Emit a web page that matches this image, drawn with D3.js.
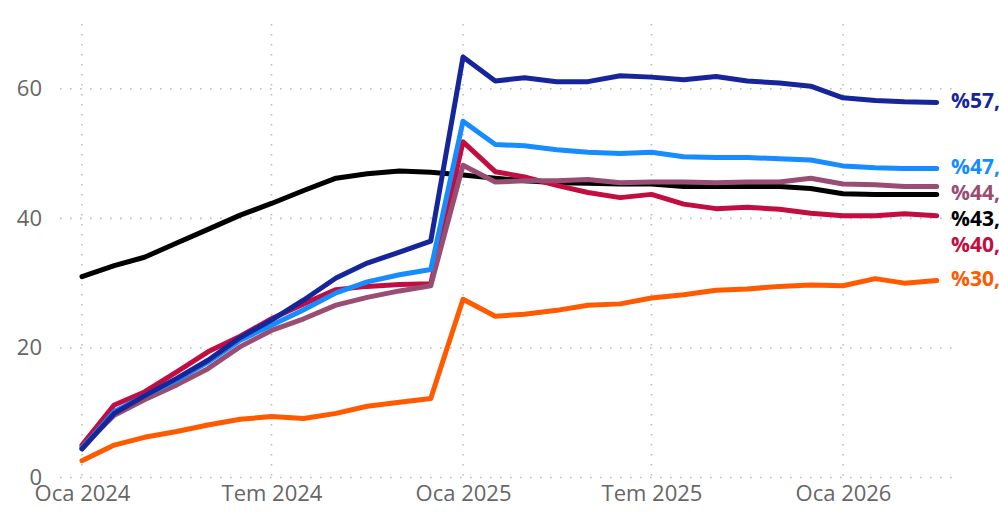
<!DOCTYPE html>
<html>
<head>
<meta charset="utf-8">
<script src="https://cdn.jsdelivr.net/npm/d3@7"></script>
<style>
  html, body { margin: 0; padding: 0; background: #fff; overflow: hidden; }
  svg { display: block; }
</style>
</head>
<body>
<svg id="chart" width="999" height="513"></svg>
<script>
// Monthly observations, January 2024 through April 2026
const months = d3.timeMonth.range(new Date(2024, 0, 1), new Date(2026, 4, 1));

const navyValues = [4.4, 9.9, 12.6, 15.3, 18.1, 21.6, 24.3, 27.4, 30.8, 33.1, 34.8, 36.5,
  64.9, 61.2, 61.7, 61.1, 61.1, 62.0, 61.8, 61.4, 61.9, 61.2, 60.9, 60.4, 58.6, 58.2, 58.0, 57.9];
const lightBlueValues = [4.5, 10.2, 12.6, 15.0, 17.8, 21.2, 23.5, 25.9, 28.5, 30.2, 31.3, 32.1,
  55.0, 51.4, 51.2, 50.6, 50.2, 50.0, 50.2, 49.5, 49.4, 49.4, 49.2, 49.0, 48.1, 47.8, 47.7, 47.7];
const mauveValues = [4.7, 9.6, 12.0, 14.3, 16.8, 20.2, 22.7, 24.5, 26.6, 27.8, 28.8, 29.6,
  48.2, 45.6, 45.8, 45.8, 46.0, 45.5, 45.6, 45.6, 45.5, 45.6, 45.6, 46.2, 45.3, 45.2, 44.9, 44.9];
const blackValues = [31.0, 32.7, 34.0, 36.2, 38.3, 40.5, 42.3, 44.3, 46.2, 46.9, 47.3, 47.1,
  46.7, 46.2, 45.8, 45.5, 45.4, 45.3, 45.3, 44.9, 44.9, 44.9, 44.9, 44.6, 43.8, 43.7, 43.7, 43.7];
const crimsonValues = [5.0, 11.2, 13.2, 16.3, 19.4, 21.8, 24.5, 26.8, 29.0, 29.5, 29.8, 29.9,
  51.8, 47.2, 46.4, 45.1, 44.0, 43.2, 43.7, 42.2, 41.5, 41.7, 41.4, 40.8, 40.4, 40.4, 40.7, 40.4];
const orangeValues = [2.6, 5.0, 6.2, 7.1, 8.1, 9.0, 9.4, 9.1, 9.9, 11.0, 11.6, 12.2,
  27.5, 24.9, 25.2, 25.8, 26.6, 26.8, 27.7, 28.2, 28.9, 29.1, 29.5, 29.7, 29.6, 30.7, 30.0, 30.4];

const yTicks = [0, 20, 40, 60];
const xTickDates = [new Date(2024, 0, 1), new Date(2024, 6, 1), new Date(2025, 0, 1),
  new Date(2025, 6, 1), new Date(2026, 0, 1)];
const xTickLabels = ["Oca 2024", "Tem 2024", "Oca 2025", "Tem 2025", "Oca 2026"];

// Draw order: later series sit on top
const series = [
  { values: blackValues,     color: "#000000" },
  { values: crimsonValues,   color: "#c30d40" },
  { values: mauveValues,     color: "#9a4d73" },
  { values: lightBlueValues, color: "#168cff" },
  { values: navyValues,      color: "#16269a" },
  { values: orangeValues,    color: "#ff5a00" }
];

const svg = d3.select("#chart");

const x = d3.scaleTime()
  .domain([new Date(2024, 0, 1), new Date(2026, 0, 1)])
  .range([82, 843]);
const y = d3.scaleLinear().domain([0, 70]).range([477.5, 24]);

const gridColor = "#bdbdbd";
const grid = svg.append("g");

// Horizontal dotted gridlines
grid.selectAll("line.h").data(yTicks).join("line")
  .attr("x1", 60).attr("x2", 952)
  .attr("y1", d => y(d)).attr("y2", d => y(d))
  .attr("stroke", gridColor).attr("stroke-width", 1.6)
  .attr("stroke-dasharray", "1.6,8.4");

// Vertical dotted gridlines at the x ticks
grid.selectAll("line.v").data(xTickDates).join("line")
  .attr("x1", d => x(d)).attr("x2", d => x(d))
  .attr("y1", y(70)).attr("y2", y(0))
  .attr("stroke", gridColor).attr("stroke-width", 1.6)
  .attr("stroke-dasharray", "1.6,8.4");

const tickFont = "'Open Sans', sans-serif";

// Axes (labels only, no domain or tick marks)
const yAxis = d3.axisLeft(y).tickValues(yTicks).tickSize(0).tickPadding(0);
svg.append("g").attr("transform", "translate(42,0)").call(yAxis)
  .call(g => g.select(".domain").remove())
  .call(g => g.selectAll("text")
    .attr("fill", "#666").attr("font-size", 22)
    .attr("font-family", tickFont));

const xAxis = d3.axisBottom(x).tickValues(xTickDates)
  .tickFormat((d, i) => xTickLabels[i]).tickSize(0).tickPadding(0);
svg.append("g").attr("transform", "translate(0,485)").call(xAxis)
  .call(g => g.select(".domain").remove())
  .call(g => g.selectAll("text")
    .attr("fill", "#666").attr("font-size", 22)
    .attr("font-family", tickFont));

// Lines
const line = d3.line()
  .x((d, i) => x(months[i]))
  .y(d => y(d));

svg.append("g").selectAll("path").data(series).join("path")
  .attr("d", s => line(s.values))
  .attr("fill", "none")
  .attr("stroke", s => s.color)
  .attr("stroke-width", 5)
  .attr("stroke-linejoin", "round")
  .attr("stroke-linecap", "round");

// End-of-line value labels, nudged apart so they do not overlap
const last = months.length - 1;
const labels = series.map(s => ({
  color: s.color,
  value: s.values[last],
  ty: y(s.values[last])
})).sort((a, b) => a.ty - b.ty);
const minGap = 26;
for (let i = 1; i < labels.length; i++) {
  if (labels[i].ty < labels[i - 1].ty + minGap) labels[i].ty = labels[i - 1].ty + minGap;
}
const fmt = v => "%" + v.toFixed(1).replace(".", ",");

svg.append("g").selectAll("text").data(labels).join("text")
  .attr("x", 951)
  .attr("y", d => d.ty)
  .attr("dy", "0.25em")
  .attr("fill", d => d.color)
  .attr("font-size", 21)
  .attr("font-weight", "bold")
  .attr("font-family", tickFont)
  .text(d => fmt(d.value));
</script>
</body>
</html>
